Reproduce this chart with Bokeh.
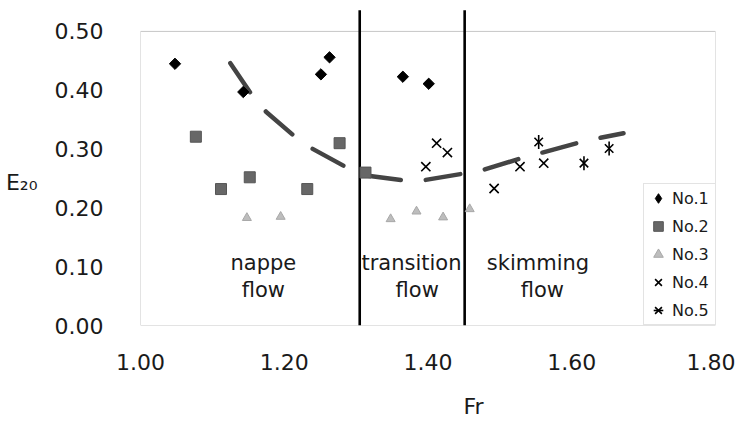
import math
from bokeh.plotting import figure
from bokeh.models import (Range1d, FixedTicker, NumeralTickFormatter, Label,
                          Legend, LegendItem, BoxAnnotation)
from bokeh.embed import file_html
from bokeh.resources import INLINE
from bokeh.core.properties import value

# ---- data ----
no1_fr = [1.048, 1.143, 1.251, 1.263, 1.365, 1.401]
no1_e = [0.445, 0.397, 0.427, 0.456, 0.423, 0.411]
no2_fr = [1.077, 1.112, 1.152, 1.232, 1.277, 1.313]
no2_e = [0.321, 0.232, 0.252, 0.232, 0.310, 0.260]
no3_fr = [1.148, 1.195, 1.348, 1.384, 1.421, 1.458]
no3_e = [0.183, 0.185, 0.181, 0.194, 0.184, 0.198]
no4_fr = [1.397, 1.412, 1.427, 1.492, 1.528, 1.561]
no4_e = [0.270, 0.310, 0.294, 0.233, 0.270, 0.276]
no5_fr = [1.554, 1.617, 1.652]
no5_e = [0.312, 0.276, 0.301]

trend_fr = [1.125, 1.155, 1.175, 1.214, 1.237, 1.285, 1.308, 1.364,
            1.394, 1.448, 1.475, 1.526, 1.556, 1.607, 1.635, 1.672]
trend_e = [0.446, 0.392, 0.363, 0.322, 0.302, 0.270, 0.256, 0.247,
           0.247, 0.258, 0.264, 0.283, 0.293, 0.310, 0.318, 0.327]

boundary_fr = [1.305, 1.451]

x_ticks = [1.0, 1.2, 1.4, 1.6, 1.8]
y_ticks = [0.0, 0.1, 0.2, 0.3, 0.4, 0.5]

region_names = ["nappe", "transition", "skimming"]
region_sub = ["flow", "flow", "flow"]
legend_names = ["No.1", "No.2", "No.3", "No.4", "No.5"]

FONT = "DejaVu Sans"
NB = "\u00a0"

p = figure(width=735, height=421,
           x_range=Range1d(1.0, 1.8), y_range=Range1d(0.0, 0.539),
           output_backend="svg", toolbar_location=None,
           min_border_left=140, min_border_right=20,
           min_border_top=8, min_border_bottom=95)
p.outline_line_color = None
p.grid.visible = False
p.background_fill_color = "white"

for ax in (p.xaxis[0], p.yaxis[0]):
    ax.axis_line_color = None
    ax.major_tick_line_color = None
    ax.minor_tick_line_color = None
    ax.major_label_text_font = FONT
    ax.major_label_text_font_size = "22px"
    ax.major_label_text_color = "#1a1a1a"
    ax.formatter = NumeralTickFormatter(format="0.00")
    ax.axis_label_text_font = FONT
    ax.axis_label_text_font_size = "22px"
    ax.axis_label_text_font_style = "normal"
    ax.axis_label_text_color = "#1a1a1a"

p.xaxis[0].ticker = FixedTicker(ticks=x_ticks)
p.yaxis[0].ticker = FixedTicker(ticks=y_ticks)
p.xaxis[0].major_label_standoff = 22
p.yaxis[0].major_label_standoff = 31

p.xaxis[0].axis_label = NB * 13 + "Fr"
p.xaxis[0].axis_label_standoff = 21
p.yaxis[0].axis_label = NB + "\nE\u2082\u2080"
p.yaxis[0].axis_label_orientation = "horizontal"
p.yaxis[0].axis_label_standoff = 14

# plot-area frame
p.add_layout(BoxAnnotation(left=x_ticks[0], right=x_ticks[-1],
                           bottom=y_ticks[0], top=y_ticks[-1],
                           fill_alpha=0, line_color="#444444", line_width=1,
                           level="underlay"))

# regime boundaries
p.segment(x0=boundary_fr, y0=[0, 0], x1=boundary_fr, y1=[0.536, 0.536],
          line_color="black", line_width=2.6)

# trend curve
p.line(trend_fr, trend_e, line_color="#444444", line_width=4.5,
       line_dash="35 25", line_cap="round")

r1 = p.scatter(no1_fr, no1_e, marker="square", size=8, angle=math.pi / 4,
               fill_color="black", line_color="black")
# same series drawn with zero size: only supplies the diamond legend glyph
r1_leg = p.scatter(no1_fr, no1_e, marker="diamond", size=0,
                   fill_color="black", line_color="black")
r2 = p.scatter(no2_fr, no2_e, marker="square", size=11,
               fill_color="#676767", line_color="#555555")
r3 = p.scatter(no3_fr, no3_e, marker="triangle", size=9,
               fill_color="#bdbdbd", line_color="#a8a8a8")
r4 = p.scatter(no4_fr, no4_e, marker="x", size=13,
               line_color="black", line_width=1.6)
r5a = p.scatter(no5_fr, no5_e, marker="x", size=12,
                line_color="black", line_width=1.6)
r5b = p.scatter(no5_fr, no5_e, marker="dash", size=14, angle=math.pi / 2,
                line_color="black", line_width=1.6)

legend = Legend(items=[
    LegendItem(label=legend_names[0], renderers=[r1_leg]),
    LegendItem(label=legend_names[1], renderers=[r2]),
    LegendItem(label=legend_names[2], renderers=[r3]),
    LegendItem(label=legend_names[3], renderers=[r4]),
    LegendItem(label=legend_names[4], renderers=[r5a, r5b]),
], location=(503, 0), padding=2, spacing=4, glyph_width=24, glyph_height=24,
    label_height=24, label_width=42, label_standoff=2, margin=0,
    label_text_font=FONT, label_text_font_size="16px",
    label_text_color="#1a1a1a",
    border_line_color="#c8c8c8", border_line_width=1,
    background_fill_color="white", background_fill_alpha=1)
p.add_layout(legend)

# regime labels
region_x = [1.171, 1.377, 1.553]
region_x2 = [1.171, 1.385, 1.559]
for name, sub, xa, xb in zip(region_names, region_sub, region_x, region_x2):
    p.add_layout(Label(x=xa, y=0.107, text=name, text_align="center",
                       text_baseline="alphabetic", text_font=FONT,
                       text_font_size="21px", text_color="#1a1a1a"))
    p.add_layout(Label(x=xb, y=0.061, text=sub, text_align="center",
                       text_baseline="alphabetic", text_font=FONT,
                       text_font_size="21px", text_color="#1a1a1a"))

open("out.html", "w").write(file_html(p, INLINE))
